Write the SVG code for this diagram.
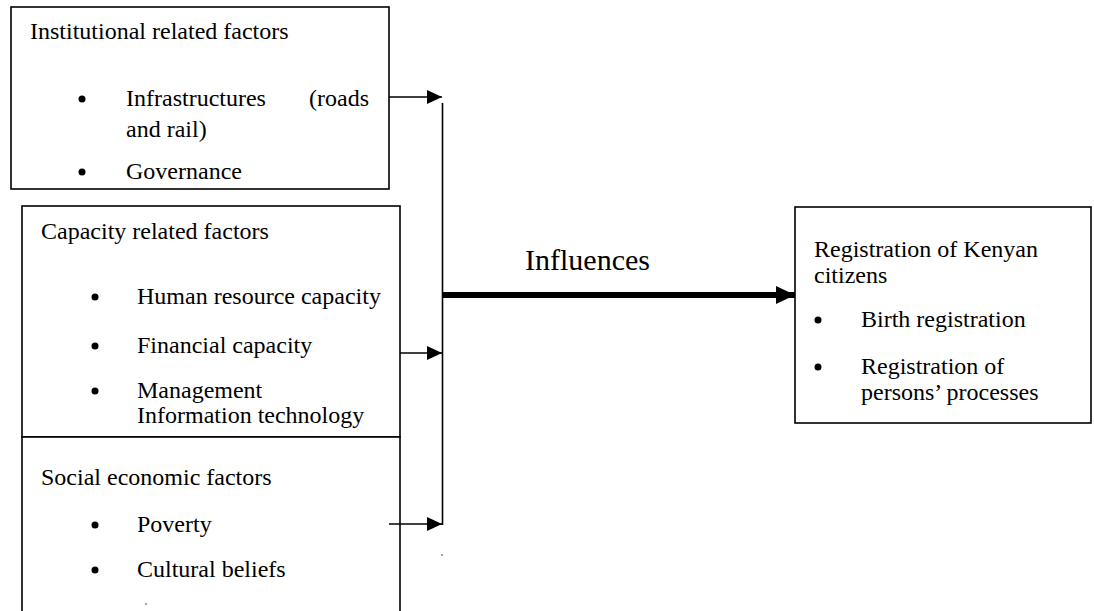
<svg xmlns="http://www.w3.org/2000/svg" width="1094" height="611" viewBox="0 0 1094 611">
<style>
.box{fill:#fff;stroke:#000;stroke-width:1.6}
.t{font-family:"Liberation Serif","Times New Roman",serif;font-size:24px;fill:#000}
.big{font-family:"Liberation Serif","Times New Roman",serif;font-size:30px;fill:#000}
.ln{stroke:#000;stroke-width:1.6;fill:none}
.thick{stroke:#000;stroke-width:6;fill:none}
</style>
<defs>
<marker id="ah" markerUnits="userSpaceOnUse" markerWidth="16" markerHeight="14" refX="15" refY="7" orient="auto"><path d="M0,0 L15,7 L0,14 Z" fill="#000"/></marker>
<marker id="ahb" markerUnits="userSpaceOnUse" markerWidth="20" markerHeight="18" refX="19" refY="9" orient="auto"><path d="M0,0 L19,9 L0,18 Z" fill="#000"/></marker>
</defs>
<g id="institutional">
<rect class="box" x="11" y="7" width="378" height="182"/>
<text class="t" x="30" y="39">Institutional related factors</text>
<circle cx="82" cy="99" r="3.5"/>
<text class="t" x="126" y="106">Infrastructures</text>
<text class="t" x="369" y="106" text-anchor="end">(roads</text>
<text class="t" x="126" y="137">and rail)</text>
<circle cx="82" cy="172" r="3.5"/>
<text class="t" x="126" y="179">Governance</text>
</g>
<g id="capacity">
<rect class="box" x="22" y="206" width="378" height="231"/>
<text class="t" x="41" y="239">Capacity related factors</text>
<circle cx="95" cy="297" r="3.5"/>
<text class="t" x="137" y="304">Human resource capacity</text>
<circle cx="95" cy="346" r="3.5"/>
<text class="t" x="137" y="353">Financial capacity</text>
<circle cx="95" cy="391" r="3.5"/>
<text class="t" x="137" y="398">Management</text>
<text class="t" x="137" y="423">Information technology</text>
</g>
<g id="social">
<rect class="box" x="22" y="437" width="378" height="190"/>
<text class="t" x="41" y="485">Social economic factors</text>
<circle cx="95" cy="525" r="3.5"/>
<text class="t" x="137" y="532">Poverty</text>
<circle cx="95" cy="570" r="3.5"/>
<text class="t" x="137" y="577">Cultural beliefs</text>
<circle cx="146" cy="604" r="0.7"/>
</g>
<g id="registration">
<rect class="box" x="795" y="207" width="296" height="216"/>
<text class="t" x="814" y="257">Registration of Kenyan</text>
<text class="t" x="814" y="283">citizens</text>
<circle cx="818" cy="320" r="3.5"/>
<text class="t" x="861" y="327">Birth registration</text>
<circle cx="818" cy="367" r="3.5"/>
<text class="t" x="861" y="374">Registration of</text>
<text class="t" x="861" y="400">persons’ processes</text>
</g>
<g id="connectors">
<line class="ln" x1="389" y1="97" x2="442" y2="97" marker-end="url(#ah)"/>
<line class="ln" x1="400" y1="353" x2="442" y2="353" marker-end="url(#ah)"/>
<line class="ln" x1="389" y1="524" x2="442" y2="524" marker-end="url(#ah)"/>
<line class="ln" x1="442.5" y1="103" x2="442.5" y2="525"/>
<line class="thick" x1="442" y1="295" x2="795" y2="295" marker-end="url(#ahb)"/>
<circle cx="442" cy="555" r="0.7"/>
<text class="big" x="525" y="270">Influences</text>
</g>
</svg>
